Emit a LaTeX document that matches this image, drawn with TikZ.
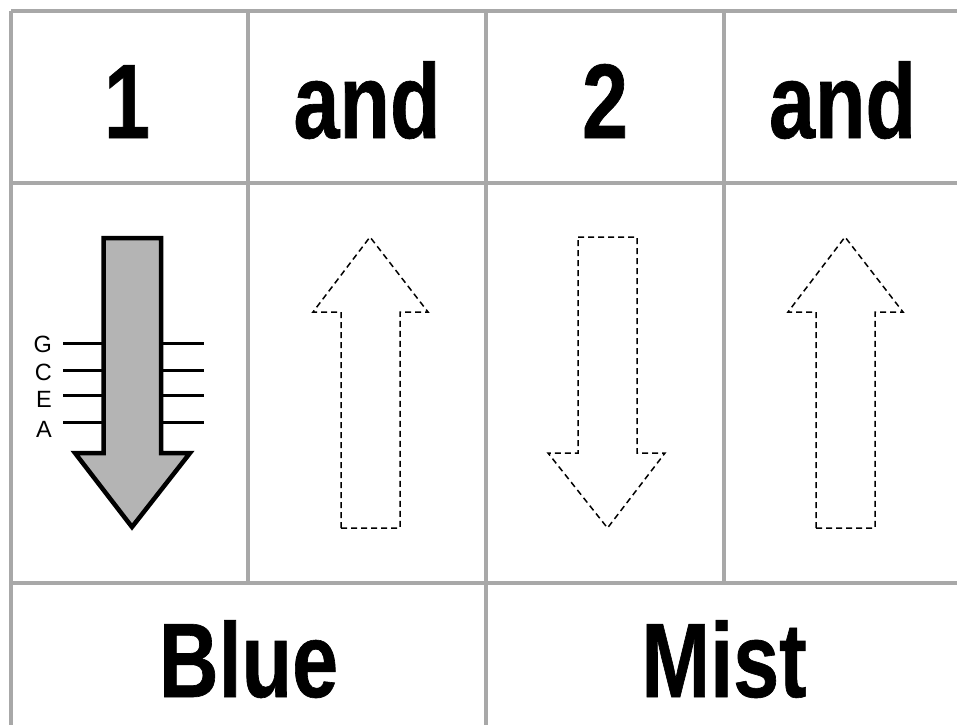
\documentclass[tikz,border=0pt]{standalone}
\usepackage{fontspec}
\setmainfont{Liberation Sans}
\newfontfamily\headfont{Liberation Sans}[FakeStretch=0.78,FakeBold=0.6]
\usepackage{tikz}
\usetikzlibrary{positioning}
\definecolor{rulegray}{HTML}{A8A8A8}
\definecolor{shaftgray}{HTML}{B4B4B4}

\begin{document}
\begin{tikzpicture}[
      x=1pt, y=-1pt,
      rule/.style     = {draw=rulegray, line width=3.3pt},
      head/.style     = {anchor=base, inner sep=0pt,
                         font=\headfont\bfseries\fontsize{106}{106}\selectfont},
      note/.style     = {anchor=base east, inner sep=0pt,
                         font=\fontsize{23.5}{23.5}\selectfont},
      solidarrow/.style = {draw=black, fill=shaftgray, line width=4.5pt, line join=miter},
      tick/.style     = {draw=black, line width=3pt},
      dasharrow/.style  = {draw=black, line width=1.5pt, dash pattern=on 6pt off 4pt},
    ]
    \clip (0,0) rectangle (957,725);
    \fill[white] (0,0) rectangle (957,725);

    % ---- table rules ----
    \draw[rule] (11,11) -- (957,11);
    \draw[rule] (11,183) -- (957,183);
    \draw[rule] (11,583) -- (957,583);
    \draw[rule] (11,11) -- (11,725);
    \draw[rule] (248,11) -- (248,583);
    \draw[rule] (486,11) -- (486,725);
    \draw[rule] (724,11) -- (724,583);

    % ---- header row ----
    \node[head] (one)  at (127,138)   {1};
    \node[head] (and1) at (367,138)   {and};
    \node[head] (two)  at (605,138)   {2};
    \node[head] (and2) at (842.5,138) {and};

    % ---- strings on the first arrow ----
    \foreach \y in {343,370,395,422} {
      \draw[tick] (63,\y) -- (104,\y);
      \draw[tick] (160,\y) -- (204,\y);
    }
    \node[note] (lg) at (52,352) {G};
    \node[note] (lc) at (52,380) {C};
    \node[note] (le) at (52,407) {E};
    \node[note] (la) at (52,437) {A};

    % ---- arrows ----
    \draw[solidarrow] (103.5,238) -- (161,238) -- (161,453) -- (190,453)
      -- (132,527) -- (75,453) -- (103.5,453) -- cycle;
    \draw[dasharrow] (341,528) -- (341,312) -- (313,312) -- (370,237)
      -- (428,312) -- (400,312) -- (400,528) -- cycle;
    \draw[dasharrow] (578,237) -- (637,237) -- (637,453) -- (665,453)
      -- (607.5,528) -- (548,453) -- (578,453) -- cycle;
    \draw[dasharrow] (816,528) -- (816,312) -- (788,312) -- (845,237)
      -- (903,312) -- (875,312) -- (875,528) -- cycle;

    % ---- bottom row ----
    \node[head] (blue) at (248.5,697) {Blue};
    \node[head] (mist) at (724,697)   {Mist};
  \end{tikzpicture}
\end{document}
